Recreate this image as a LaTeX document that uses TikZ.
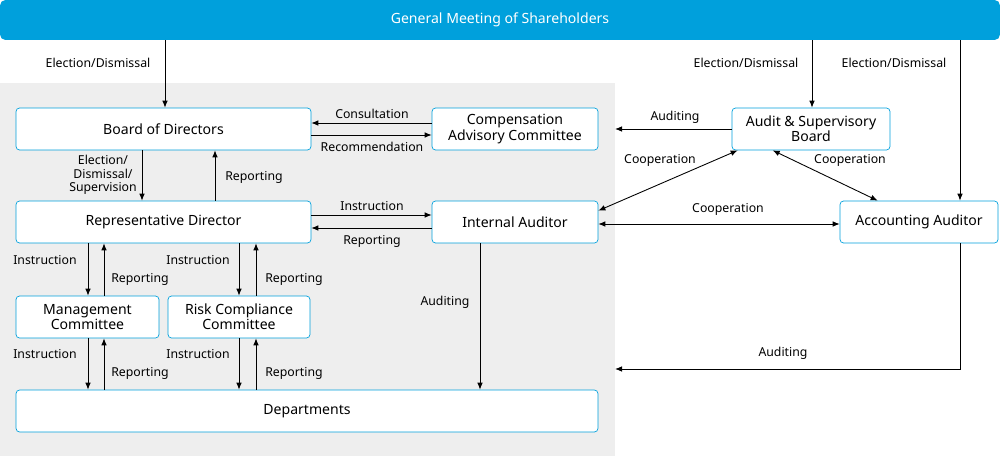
\documentclass[tikz,border=0pt]{standalone}
\usepackage{fontspec}
\setmainfont{Noto Sans}
\usetikzlibrary{arrows.meta}
\definecolor{bblue}{RGB}{0,160,220}
\definecolor{bgray}{RGB}{238,238,238}
\tikzset{
  box/.style={draw=bblue, fill=white, rounded corners=2pt, align=center,
    inner sep=0pt, minimum height=0.84cm, font=\fontsize{8}{8.6}\selectfont},
  lbl/.style={font=\fontsize{7}{7.6}\selectfont, align=center, inner sep=1pt},
  arr/.style={-{Latex[length=4pt,width=3.2pt]}, line width=0.5pt},
  darr/.style={{Latex[length=4pt,width=3.2pt]}-{Latex[length=4pt,width=3.2pt]}, line width=0.5pt}
}
\begin{document}
\begin{tikzpicture}[x=0.02cm,y=-0.02cm]
  \useasboundingbox (0,0) rectangle (1000,456);
  % background
  \fill[bgray] (0,83) rectangle (615,456);
  % top bar
  \node[fill=bblue, text=white, rounded corners=3pt, minimum width=20cm, minimum height=0.8cm,
    inner sep=0pt, font=\fontsize{8}{9}\selectfont] (gm) at(500,20){General Meeting of Shareholders};
  % boxes
  \node[box, minimum width=5.9cm] (board) at(163.5,129){Board of Directors};
  \node[box, minimum width=3.32cm] (comp) at(515,129){Compensation\\Advisory Committee};
  \node[box, minimum width=3.16cm] (audit) at(811,129){Audit \& Supervisory\\Board};
  \node[box, minimum width=5.9cm] (rep) at(163.5,222){Representative Director};
  \node[box, minimum width=3.32cm] (internal) at(515,222){Internal Auditor};
  \node[box, minimum width=3.16cm] (acc) at(919,222){Accounting Auditor};
  \node[box, minimum width=2.86cm] (mgmt) at(87.5,317){Management\\Committee};
  \node[box, minimum width=2.84cm] (risk) at(239,317){Risk Compliance\\Committee};
  \node[box, minimum width=11.64cm] (dept) at(307,411){Departments};
  % columns
  \coordinate (c88) at(88,0);
  \coordinate (c104) at(104,0);
  \coordinate (c142) at(142,0);
  \coordinate (c165) at(165,0);
  \coordinate (c215) at(215,0);
  \coordinate (c239) at(239,0);
  \coordinate (c256) at(256,0);
  \coordinate (c480) at(480,0);
  \coordinate (c812) at(812,0);
  \coordinate (c960) at(960,0);
  \coordinate (r123) at(0,123);
  \coordinate (r135) at(0,135);
  \coordinate (r215) at(0,215);
  \coordinate (r228) at(0,228);
  \coordinate (edge1) at(615,129);
  \coordinate (edge2) at(615,369);
  % election / dismissal
  \draw[arr] (gm.south -| c165) -- (board.north -| c165);
  \node[lbl] (l1) at(98,63){Election/Dismissal};
  \draw[arr] (gm.south -| c812) -- (audit.north -| c812);
  \node[lbl] (l2) at(746,63){Election/Dismissal};
  \draw[arr] (gm.south -| c960) -- (acc.north -| c960);
  \node[lbl] (l3) at(894,63){Election/Dismissal};
  % board and compensation
  \draw[arr] (comp.west |- r123) -- (board.east |- r123);
  \node[lbl] (l4) at(372,114){Consultation};
  \draw[arr] (board.east |- r135) -- (comp.west |- r135);
  \node[lbl] (l5) at(372,147){Recommendation};
  \draw[arr] (audit.west) -- (edge1);
  \node[lbl] (l6) at(675,117){Auditing};
  % board and representative
  \draw[arr] (board.south -| c142) -- (rep.north -| c142);
  \node[lbl] (l7) at(103,175){Election/\\Dismissal/\\Supervision};
  \draw[arr] (rep.north -| c215) -- (board.south -| c215);
  \node[lbl] (l8) at(254,177){Reporting};
  % representative and internal auditor
  \draw[arr] (rep.east |- r215) -- (internal.west |- r215);
  \node[lbl] (l9) at(372,206){Instruction};
  \draw[arr] (internal.west |- r228) -- (rep.east |- r228);
  \node[lbl] (l10) at(372,241){Reporting};
  % cooperation
  \draw[darr] ([xshift=0.12cm]audit.south west) -- ([yshift=-0.2cm]internal.north east);
  \node[lbl] (l11) at(660,160){Cooperation};
  \draw[darr] ([xshift=0.82cm]audit.south west) -- ([xshift=0.76cm]acc.north west);
  \node[lbl] (l12) at(850,160){Cooperation};
  \draw[darr] ([yshift=-0.04cm]internal.east) -- ([yshift=-0.04cm]acc.west);
  \node[lbl] (l13) at(728,209){Cooperation};
  % committees
  \draw[arr] (rep.south -| c88) -- (mgmt.north -| c88);
  \node[lbl] (l14) at(45,260){Instruction};
  \draw[arr] (mgmt.north -| c104) -- (rep.south -| c104);
  \node[lbl] (l15) at(140,279){Reporting};
  \draw[arr] (rep.south -| c239) -- (risk.north -| c239);
  \node[lbl] (l16) at(198,260){Instruction};
  \draw[arr] (risk.north -| c256) -- (rep.south -| c256);
  \node[lbl] (l17) at(294,279){Reporting};
  \draw[arr] (mgmt.south -| c88) -- (dept.north -| c88);
  \node[lbl] (l18) at(45,354){Instruction};
  \draw[arr] (dept.north -| c104) -- (mgmt.south -| c104);
  \node[lbl] (l19) at(140,373){Reporting};
  \draw[arr] (risk.south -| c239) -- (dept.north -| c239);
  \node[lbl] (l20) at(198,354){Instruction};
  \draw[arr] (dept.north -| c256) -- (risk.south -| c256);
  \node[lbl] (l21) at(294,373){Reporting};
  % auditing
  \draw[arr] (internal.south -| c480) -- (dept.north -| c480);
  \node[lbl] (l22) at(445,302){Auditing};
  \draw[arr] (acc.south -| c960) |- (edge2);
  \node[lbl] (l23) at(783,353){Auditing};
\end{tikzpicture}
\end{document}
